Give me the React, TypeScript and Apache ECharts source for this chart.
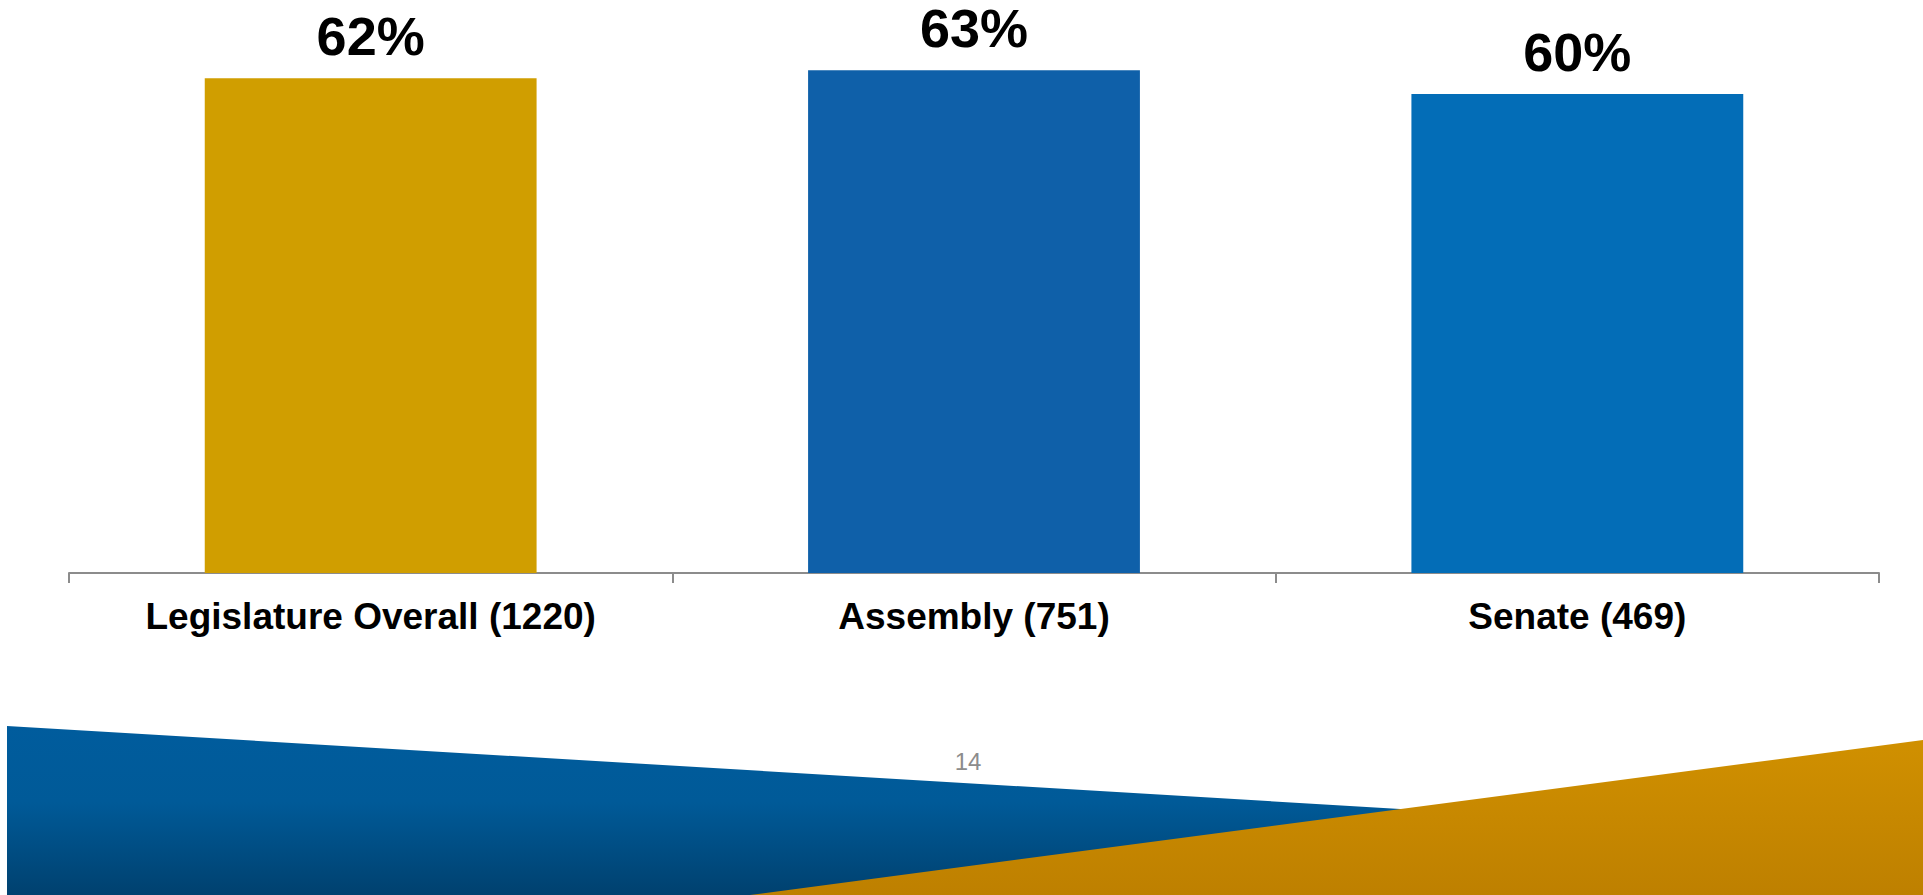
import React, { useEffect, useRef } from "react";
import * as echarts from "echarts";

const categories = ["Legislature Overall (1220)", "Assembly (751)", "Senate (469)"];
const values = [62, 63, 60];
const barColors = ["#D09E00", "#0F60A9", "#036DB7"];
const pageNumber = "14";

export default function App() {
  const ref = useRef<HTMLDivElement>(null);
  useEffect(() => {
    if (!ref.current) return;
    const chart = echarts.init(ref.current, null, { renderer: "svg" });
    const font = "'Liberation Sans', Arial, sans-serif";
    chart.setOption({
      animation: false,
      backgroundColor: "#ffffff",
      grid: { left: 69, right: 44, top: 14.3, bottom: 322, containLabel: false },
      xAxis: {
        type: "category",
        data: categories,
        axisLine: { show: true, lineStyle: { color: "#8C8C8C", width: 2 } },
        axisTick: { show: true, length: 10, lineStyle: { color: "#8C8C8C", width: 2 } },
        axisLabel: {
          margin: 25,
          color: "#000000",
          fontFamily: font,
          fontWeight: "bold",
          fontSize: 37,
        },
      },
      yAxis: { type: "value", min: 0, max: 70, show: false, splitLine: { show: false } },
      series: [
        {
          type: "bar",
          barCategoryGap: "45%",
          data: values.map((v, i) => ({ value: v, itemStyle: { color: barColors[i] } })),
          label: {
            show: true,
            position: "top",
            distance: 18,
            formatter: "{c}%",
            color: "#000000",
            fontFamily: font,
            fontWeight: "bold",
            fontSize: 54,
            lineHeight: 48,
          },
        },
      ],
      graphic: [
        {
          type: "polygon",
          shape: { points: [[7, 726], [1923, 840], [1923, 895], [7, 895]] },
          style: {
            fill: new echarts.graphic.LinearGradient(0, 0, 0, 1, [
              { offset: 0, color: "#005C9D" },
              { offset: 0.45, color: "#005A98" },
              { offset: 1, color: "#00416F" },
            ]),
          },
          z: 10,
        },
        {
          type: "polygon",
          shape: { points: [[750, 895], [1923, 740], [1923, 895]] },
          style: {
            fill: new echarts.graphic.LinearGradient(0, 0, 0, 1, [
              { offset: 0, color: "#D09000" },
              { offset: 1, color: "#BE8000" },
            ]),
          },
          z: 11,
        },
        {
          type: "text",
          x: 968,
          y: 761,
          style: {
            text: pageNumber,
            fill: "#8C8C8C",
            font: "24px 'Liberation Sans', Arial, sans-serif",
            textAlign: "center",
            textVerticalAlign: "middle",
          },
          z: 12,
        },
      ],
    });
    return () => chart.dispose();
  }, []);
  return (
    <div
      ref={ref}
      style={{ position: "fixed", left: 0, top: 0, width: "1923px", height: "895px" }}
    />
  );
}
